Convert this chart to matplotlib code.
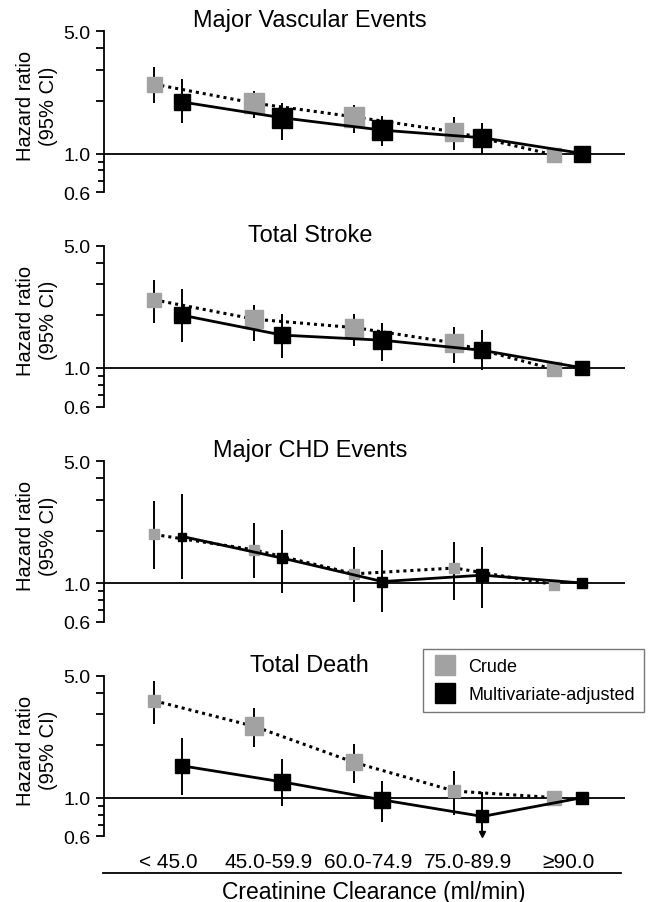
import numpy as np
import matplotlib
matplotlib.use('Agg')
import matplotlib.pyplot as plt
from matplotlib.lines import Line2D

plt.rcParams['font.family'] = ['Liberation Sans', 'DejaVu Sans']

# data: hazard ratios (95% CI) by creatinine clearance group
categories = ['< 45.0', '45.0-59.9', '60.0-74.9', '75.0-89.9', '\u226590.0']
titles = ['Major Vascular Events', 'Total Stroke', 'Major CHD Events', 'Total Death']

crude_hr = [[2.49, 1.94, 1.62, 1.33, 0.98],
            [2.45, 1.90, 1.70, 1.39, 0.98],
            [1.90, 1.55, 1.13, 1.22, 0.98],
            [3.59, 2.56, 1.59, 1.09, 1.00]]
crude_lo = [[1.95, 1.60, 1.31, 1.05, np.nan],
            [1.81, 1.42, 1.33, 1.07, np.nan],
            [1.21, 1.07, 0.78, 0.80, np.nan],
            [2.66, 1.94, 1.22, 0.80, np.nan]]
crude_hi = [[3.11, 2.28, 1.89, 1.62, np.nan],
            [3.19, 2.29, 2.03, 1.72, np.nan],
            [2.94, 2.21, 1.61, 1.72, np.nan],
            [4.68, 3.25, 2.03, 1.42, np.nan]]

adj_hr = [[1.97, 1.60, 1.36, 1.23, 1.00],
          [2.00, 1.54, 1.44, 1.26, 1.00],
          [1.85, 1.39, 1.02, 1.11, 1.00],
          [1.52, 1.23, 0.97, 0.78, 1.00]]
adj_lo = [[1.50, 1.20, 1.10, 1.00, np.nan],
          [1.41, 1.14, 1.09, 0.97, np.nan],
          [1.05, 0.88, 0.68, 0.72, np.nan],
          [1.04, 0.90, 0.72, 0.62, np.nan]]
adj_hi = [[2.66, 1.95, 1.64, 1.49, np.nan],
          [2.84, 2.03, 1.80, 1.65, np.nan],
          [3.26, 2.01, 1.55, 1.60, np.nan],
          [2.21, 1.66, 1.25, 1.07, np.nan]]
# lower CI runs off the axis (drawn with an arrow)
adj_lo_truncated = [[], [], [], [3]]

# marker sizes (pt), roughly as in the original
crude_ms = [[10.8, 14.2, 15, 12.6, 10.6],
            [9.9, 13.2, 12.6, 12.6, 9.6],
            [6.6, 7.2, 7.5, 7.5, 7.5],
            [9, 12.9, 11.4, 8.4, 9.6]]
adj_ms = [[11.4, 15, 15, 12.6, 12],
          [11.4, 12, 13.5, 12, 10.6],
          [6, 7.8, 7.5, 8.1, 7.2],
          [9.9, 12, 11.1, 9, 9]]

gray = '#a2a2a2'
W, H = 655, 903
fig = plt.figure(figsize=(W / 100, H / 100), dpi=100)

# panel placement in pixels: (y of 5.0, y of 0.6)
panel_px = [(32.3, 193.3), (246.7, 407.7), (462.3, 622.7), (676.7, 837.3)]
left_px, right_px = 104.4, 624.5
x = np.arange(len(categories))
off = 0.14

axes = []
for k in range(4):
    top, bot = panel_px[k]
    ax = fig.add_axes([left_px / W, 1 - bot / H, (right_px - left_px) / W, (bot - top) / H])
    axes.append(ax)
    ax.set_yscale('log')
    ax.set_ylim(0.6, 5.0)
    ax.set_xlim(-0.64, 4.56)
    for s in ['top', 'right', 'bottom']:
        ax.spines[s].set_visible(False)
    ax.spines['left'].set_linewidth(1.3)
    ax.set_yticks([0.6, 1, 2, 3, 4, 5], ['0.6', '1.0', '', '', '', '5.0'])
    ax.set_yticks([0.7, 0.8, 0.9], minor=True)
    ax.yaxis.set_minor_formatter(plt.NullFormatter())
    ax.tick_params(axis='y', which='major', length=6, width=1.3, labelsize=14, pad=4)
    ax.tick_params(axis='y', which='minor', length=4, width=1.3)
    ax.set_xticks([])
    ax.axhline(1.0, color='black', lw=1.3, zorder=1)

    xc = x - off
    xa = x + off
    ch, cl, cu = np.array(crude_hr[k]), np.array(crude_lo[k]), np.array(crude_hi[k])
    ah, al, au = np.array(adj_hr[k]), np.array(adj_lo[k]), np.array(adj_hi[k])

    # crude
    ax.vlines(xc, cl, cu, color='black', lw=1.4, zorder=2)
    ax.plot(xc, ch, color='black', ls=(0, (1, 1.3)), lw=2.2, zorder=3)
    for i in range(len(x)):
        ax.plot(xc[i], ch[i], 's', color=gray, ms=crude_ms[k][i], mec=gray, zorder=4)

    # multivariate-adjusted
    ax.vlines(xa, al, au, color='black', lw=1.4, zorder=5)
    for i in adj_lo_truncated[k]:
        ax.plot(xa[i], al[i], 'v', color='black', ms=5, zorder=5, clip_on=False)
    ax.plot(xa, ah, color='black', ls='-', lw=2.0, zorder=6)
    for i in range(len(x)):
        ax.plot(xa[i], ah[i], 's', color='black', ms=adj_ms[k][i], zorder=7)

    ax.set_title(titles[k], x=0.395, pad=1, fontsize=16.9)
    ax.text(-0.13, 0.54, 'Hazard ratio\n(95% CI)', transform=ax.transAxes,
            rotation=90, ha='center', va='center', multialignment='center',
            fontsize=14.5, linespacing=1.25)

# bottom axis labels
ax = axes[-1]
ax.set_xticks(x, categories)
ax.tick_params(axis='x', length=0, labelsize=15, pad=11)
ax.plot([-0.003, 0.993], [-0.231, -0.231], transform=ax.transAxes, color='black',
        lw=1.3, clip_on=False)
ax.text(0.517, -0.384, 'Creatinine Clearance (ml/min)', transform=ax.transAxes,
        ha='center', va='baseline', fontsize=16.5)

handles = [Line2D([], [], marker='s', ls='none', color=gray, ms=14),
           Line2D([], [], marker='s', ls='none', color='black', ms=14)]
leg = fig.legend(handles, ['Crude', 'Multivariate-adjusted'], loc='upper left',
                 bbox_to_anchor=(423 / W, 1 - 650 / H), bbox_transform=fig.transFigure,
                 fontsize=13, frameon=True, fancybox=False, edgecolor='#555555',
                 borderpad=0.5, labelspacing=0.6, handlelength=1.4, handletextpad=0.6,
                 borderaxespad=0)
leg.get_frame().set_linewidth(1.0)

plt.savefig('out.png', dpi=100)
